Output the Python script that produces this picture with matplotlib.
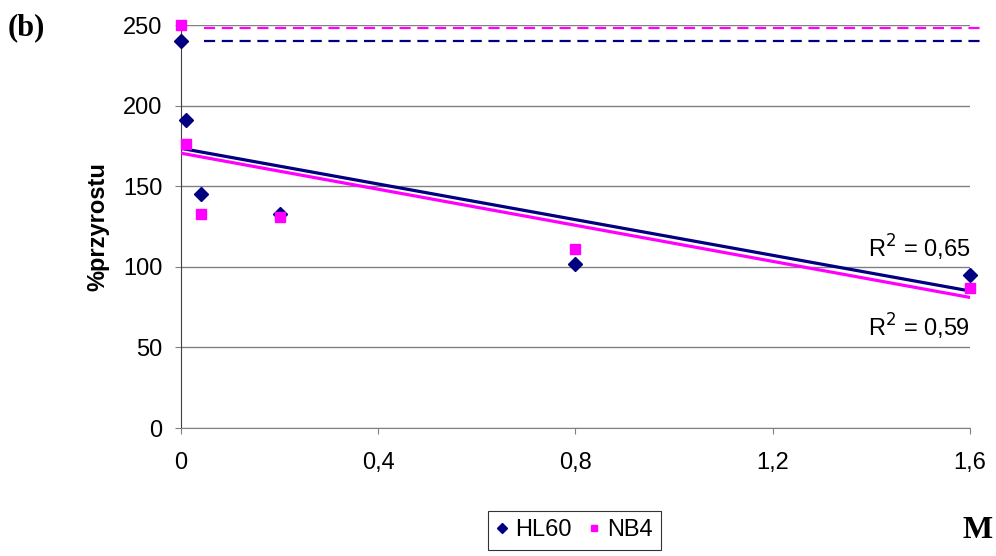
import matplotlib
matplotlib.use('Agg')
from matplotlib import pyplot as plt

plt.rcParams['font.family'] = ['Liberation Sans', 'DejaVu Sans']

# dane
stezenie = [0, 0.01, 0.04, 0.2, 0.8, 1.6]
hl60 = [240, 191, 145, 133, 102, 95]
nb4 = [250, 176, 133, 131, 111, 87]

# linie trendu (koniec/poczatek)
trend_x = [0, 1.6]
hl60_trend = [173.5, 85]
nb4_trend = [170.5, 81]

# kontrola (linie przerywane)
kontrola_x = [0.047, 1.62]
hl60_kontrola = 240
nb4_kontrola = 248

x_ticks = [0, 0.4, 0.8, 1.2, 1.6]
x_labels = ['0', '0,4', '0,8', '1,2', '1,6']
y_ticks = [0, 50, 100, 150, 200, 250]

fig = plt.figure(figsize=(9.96, 5.56), dpi=100)
ax = fig.add_axes([0.1817, 0.2302, 0.7922, 0.7248])

navy = '#000080'
mag = '#ff00ff'

ax.plot(kontrola_x, [nb4_kontrola] * 2, color=mag, lw=1.6, ls=(0, (5, 3)), clip_on=False)
ax.plot(kontrola_x, [hl60_kontrola] * 2, color=navy, lw=1.6, ls=(0, (5, 3)), clip_on=False)

ax.plot(trend_x, hl60_trend, color=navy, lw=2.3, zorder=3)
ax.plot(trend_x, nb4_trend, color=mag, lw=2.3, zorder=3)

ax.plot(stezenie, hl60, ls='none', marker='D', ms=7.5, color=navy, label='HL60', clip_on=False, zorder=4)
ax.plot(stezenie, nb4, ls='none', marker='s', ms=7.5, color=mag, label='NB4', clip_on=False, zorder=4)

ax.text(1.6, 111.5, 'R$^2$ = 0,65', ha='right', va='center', fontsize=17)
ax.text(1.6, 63, 'R$^2$ = 0,59', ha='right', va='center', fontsize=17)

ax.set_xlim(0, 1.6)
ax.set_ylim(0, 250)
ax.set_xticks(x_ticks)
ax.set_xticklabels(x_labels)
ax.set_yticks(y_ticks)
ax.tick_params(axis='both', labelsize=17, direction='out', length=4.5, width=0.8, color='#808080')
ax.tick_params(axis='x', pad=13)
ax.tick_params(axis='y', pad=9)

ax.grid(axis='y', color='#808080', lw=1)
for s in ['top', 'right']:
    ax.spines[s].set_visible(False)
ax.spines['left'].set_color('#404040')
ax.spines['bottom'].set_color('#808080')

ax.set_ylabel('%przyrostu', fontsize=17, fontweight='bold', labelpad=10)

fig.text(0.008, 0.95, '(b)', fontsize=22, fontweight='bold', family='Liberation Serif', va='center')
fig.text(0.997, 0.045, 'M', fontsize=23, fontweight='bold', family='Liberation Serif', va='center', ha='right')

leg = ax.legend(loc='center', bbox_to_anchor=(0.5765, 0.046), bbox_transform=fig.transFigure,
                ncol=2, fontsize=17, frameon=True, fancybox=False, edgecolor='black',
                handlelength=0.5, handletextpad=0.3, columnspacing=0.7, markerscale=0.65,
                borderpad=0.35)
leg.get_frame().set_linewidth(0.8)

plt.savefig('out.png', dpi=100)
